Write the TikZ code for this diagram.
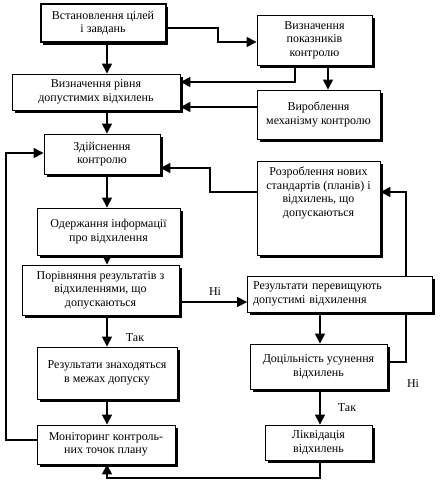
\documentclass[tikz,border=0pt]{standalone}
\usepackage{fontspec}
\setmainfont{Liberation Serif}
\usetikzlibrary{arrows.meta,shadows,calc}
\pgfdeclarelayer{background}
\pgfsetlayers{background,main}
\begin{document}
\begin{tikzpicture}[x=1pt,y=-1pt,
  box/.style={draw=black,line width=0.9pt,fill=white,align=center,inner sep=2pt,
    font=\fontsize{12}{13.5}\selectfont,
    general shadow={shadow xshift=2.6pt,shadow yshift=-2.6pt,fill=black}},
  lbl/.style={font=\fontsize{12}{13.5}\selectfont},
  arr/.style={line width=1.5pt,-{Triangle[length=10pt,width=10pt]}},
  ln/.style={line width=1.5pt}]
\useasboundingbox (0,0) rectangle (443,488);
\coordinate (mx) at (107,0);
\coordinate (rx) at (320,0);
% boxes
\node[box,line width=2pt,minimum width=125pt,minimum height=38pt] (b1) at (103,23) {Встановлення цілей\\ і завдань};
\node[box,minimum width=115pt,minimum height=50pt] (b2) at (314.5,40) {Визначення\\ показників\\ контролю};
\node[box,minimum width=168pt,minimum height=36pt] (b3) at (96,92) {Визначення рівня\\ допустимих відхилень};
\node[box,minimum width=123pt,minimum height=49pt] (b4) at (318.5,114.5) {Вироблення\\ механізму контролю};
\node[box,minimum width=116pt,minimum height=40pt] (b5) at (102,154) {Здійснення\\ контролю};
\node[box,minimum width=123pt,minimum height=94pt] (b6) at (318.5,208) {};
\node[lbl,align=center] (t6) at (318.5,193) {Розроблення нових\\ стандартів (планів) і\\ відхилень, що\\ допускаються};
\node[box,minimum width=143pt,minimum height=47pt] (b7) at (108.5,231.5) {Одержання інформації\\ про відхилення};
\node[box,minimum width=157pt,minimum height=50pt] (b8) at (100.5,290) {Порівняння результатів з\\ відхиленнями, що\\ допускаються};
\node[box,align=left,text width=174pt,minimum width=185pt,minimum height=36pt] (b9) at (340,294) {Результати перевищують\\ допустимі відхилення};
\node[box,minimum width=140pt,minimum height=52pt] (b10) at (107,373) {Результати знаходяться\\ в межах допуску};
\node[box,minimum width=137pt,minimum height=45pt] (b11) at (318.5,366.5) {Доцільність усунення\\ відхилень};
\node[box,minimum width=138pt,minimum height=39pt] (b12) at (106,444.5) {Моніторинг контроль-\\ них точок плану};
\node[box,minimum width=107pt,minimum height=35pt] (b13) at (318.5,442.5) {Ліквідація\\ відхилень};
% labels
\node[lbl] (n1) at (215,292) {Ні};
\node[lbl] (y1) at (135,338) {Так};
\node[lbl] (n2) at (413,384) {Ні};
\node[lbl] (y2) at (347,408) {Так};
% bend coordinates
\coordinate (p12a) at (218,28);
\coordinate (p12b) at (218,42);
\coordinate (p23) at (295,82);
\coordinate (p43) at (257,107);
\coordinate (p65a) at (210,192);
\coordinate (p65b) at (210,168);
\coordinate (p89) at (179,302);
\coordinate (p116a) at (406,362);
\coordinate (p116b) at (406,192);
\coordinate (p125a) at (6,440);
\coordinate (p125b) at (6,153);
\coordinate (p1312) at (320,478);
% connectors
\begin{pgfonlayer}{background}
\draw[arr] (b1.south -| mx) -- (b3.north -| mx);
\draw[arr] (b1.east |- p12a) -- (p12a) -- (p12b) -- (b2.west |- p12b);
\draw[arr] (b2.south -| p23) |- (b3.east |- p23);
\draw[arr] (b2.south -| 328,0) -- (b4.north -| 328,0);
\draw[arr] (b4.west |- p43) -- (b3.east |- p43);
\draw[arr] (b3.south -| mx) -- (b5.north -| mx);
\draw[arr] (b6.west |- p65a) -- (p65a) -- (p65b) -- (b5.east |- p65b);
\draw[arr] (b5.south -| mx) -- (b7.north -| mx);
\draw[arr] (b7.south -| mx) -- (b8.north -| mx);
\draw[arr] (b8.east |- p89) -- (b9.west |- p89);
\draw[arr] (b8.south -| mx) -- (b10.north -| mx);
\draw[arr] (b9.south -| rx) -- (b11.north -| rx);
\draw[arr] (b11.east |- p116a) -- (p116a) -- (p116b) -- (b6.east |- p116b);
\draw[arr] (b11.south -| rx) -- (b13.north -| rx);
\draw[arr] (b10.south -| mx) -- (b12.north -| mx);
\draw[arr] (b12.west |- p125a) -- (p125a) -- (p125b) -- (b5.west |- p125b);
\draw[arr] (b13.south -| rx) -- (p1312) -| (b12.south -| mx);
\end{pgfonlayer}
\end{tikzpicture}
\end{document}
